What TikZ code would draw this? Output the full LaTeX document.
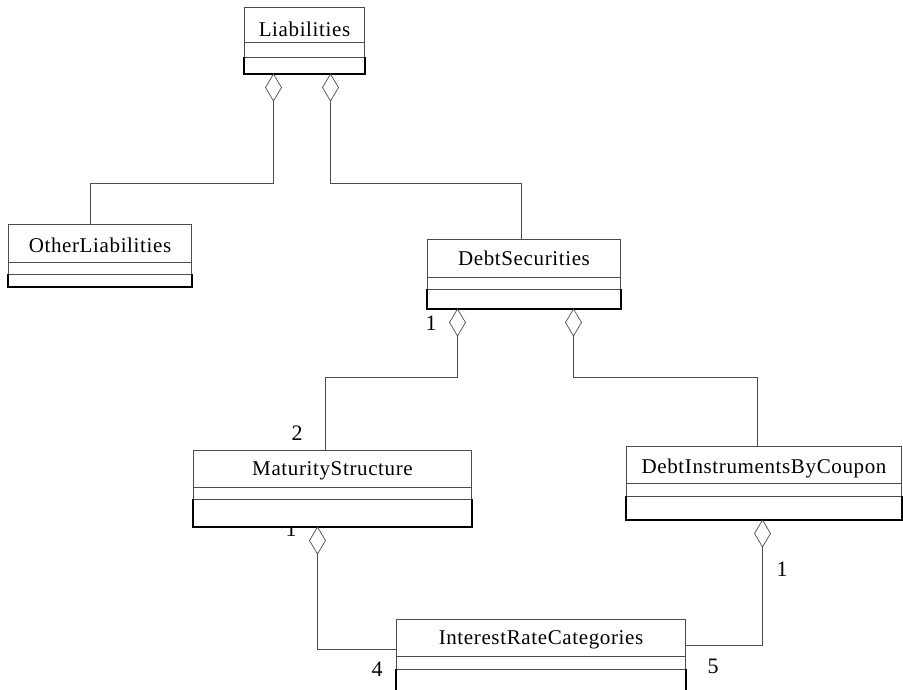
\documentclass[tikz,border=0pt]{standalone}
\usepackage{fontspec}
\setmainfont{Liberation Serif}
\usetikzlibrary{shapes.geometric}
\tikzset{
  thinln/.style={draw=black!70, line width=0.7pt},
  thickln/.style={draw=black, line width=1.6pt},
  ttlbox/.style={inner sep=0pt, outer sep=0pt, anchor=north west},
  ttl/.style={anchor=base, inner sep=0pt, font=\fontsize{21}{25}\selectfont\addfontfeature{LetterSpace=3}},
  mult/.style={anchor=base, inner sep=0pt, font=\fontsize{22}{26}\selectfont},
  agg/.style={thinln, fill=white, diamond, inner sep=0pt, outer sep=0pt, minimum width=16, minimum height=27, anchor=north},
  conn/.style={thinln}
}
% name, x1, y1, x2, y-title-bottom, y-second-line, y-bottom, text baseline, text
\newcommand\umlclass[9]{%
  \fill[white] (#2,#3) rectangle (#4,#7);
  \node[ttlbox, minimum width={#4-#2}, minimum height={#5-#3}] (#1) at (#2,#3) {};
  \draw[thinln] (#2+0.5,#6+0.5) -- (#2+0.5,#3+0.5) -- (#4-0.5,#3+0.5) -- (#4-0.5,#6+0.5);
  \draw[thinln] (#2,#5+0.5) -- (#4,#5+0.5);
  \draw[thinln] (#2,#6+0.5) -- (#4,#6+0.5);
  \draw[thickln] (#2,#6) -- (#2,#7) -- (#4,#7) -- (#4,#6);
  \node[ttl] (#1-t) at ({(#2+#4)/2},#8) {#9};
}
\begin{document}
\begin{tikzpicture}[x=1pt,y=-1pt]
\useasboundingbox (0,0) rectangle (903,689);
\clip (0,0) rectangle (903,689);
\fill[white] (0,0) rectangle (903,689);

% label partly hidden behind MaturityStructure
\node[mult] (m3) at (291,536) {1};

% classes
\umlclass{liab}{244}{7}{365}{42}{57}{74}{36}{Liabilities}
\umlclass{ol}{8}{224}{192}{262}{274}{287}{252}{OtherLiabilities}
\umlclass{ds}{427}{239}{621}{277}{289}{309}{265}{DebtSecurities}
\umlclass{ms}{193}{450}{472}{487}{499}{527}{475}{MaturityStructure}
\umlclass{dibc}{626}{446}{902}{483}{496}{520}{473}{DebtInstrumentsByCoupon}
\umlclass{irc}{396}{619}{686}{656}{669}{700}{644}{InterestRateCategories}

% aggregation diamonds
\node[agg] (a1) at (273.5,74) {};
\node[agg] (a2) at (330.5,74) {};
\node[agg] (a3) at (457.5,309) {};
\node[agg] (a4) at (573.5,309) {};
\node[agg] (a5) at (317.5,527) {};
\node[agg] (a6) at (762.5,520) {};

% bend points
\coordinate (j1) at (90.5,183.5);
\coordinate (j2) at (521.5,183.5);
\coordinate (j3) at (325.5,377.5);
\coordinate (j4) at (757.5,377.5);
\coordinate (j5) at (0,649.5);
\coordinate (j6) at (0,645.5);

% connectors
\draw[conn] (a1.south) |- (j1) -- (j1 |- ol.north);
\draw[conn] (a2.south) |- (j2) -- (j2 |- ds.north);
\draw[conn] (a3.south) |- (j3) -- (j3 |- ms.north);
\draw[conn] (a4.south) |- (j4) -- (j4 |- dibc.north);
\draw[conn] (a5.south) |- (j5 -| irc.west);
\draw[conn] (a6.south) |- (j6 -| irc.east);

% multiplicities
\node[mult] (m1) at (431,330) {1};
\node[mult] (m2) at (297,440) {2};
\node[mult] (m4) at (782,576) {1};
\node[mult] (m5) at (377,676) {4};
\node[mult] (m6) at (713,673) {5};
\end{tikzpicture}
\end{document}
